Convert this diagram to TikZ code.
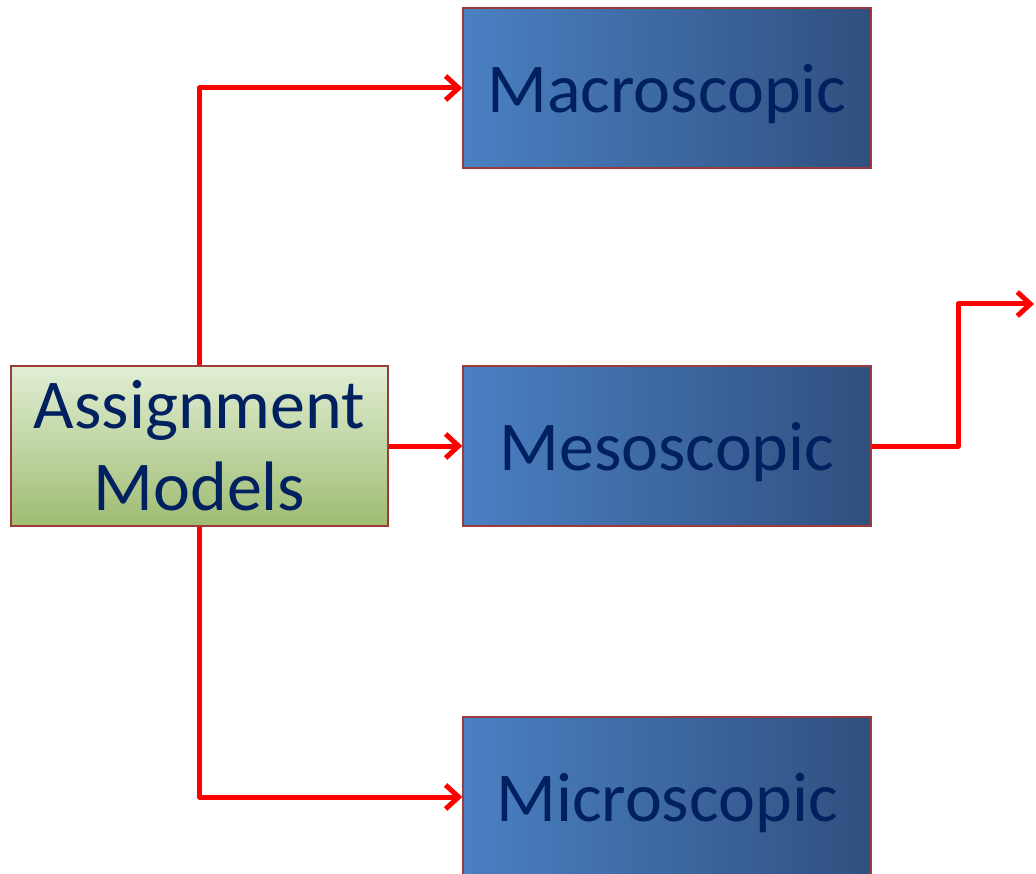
\documentclass[tikz,border=0pt]{standalone}
\usepackage{fontspec}
\setmainfont{Carlito}
\usetikzlibrary{arrows.meta}
\definecolor{txtblue}{HTML}{002060}
\definecolor{edgered}{HTML}{9B3B3A}
\definecolor{blueA}{HTML}{4A80C3}
\definecolor{blueM}{HTML}{3F70AD}
\definecolor{blueB}{HTML}{30507F}
\definecolor{greenA}{HTML}{E1EED4}
\definecolor{greenB}{HTML}{9FBC72}
\definecolor{linkred}{HTML}{FF0000}
\tikzset{
  levelbox/.style={draw=edgered, line width=1.5pt, inner sep=0pt,
    minimum width=408pt, minimum height=160pt, text depth=0pt,
    left color=blueA, middle color=blueM, right color=blueB,
    text=txtblue, font=\fontsize{70}{84}\selectfont},
  rootbox/.style={draw=edgered, line width=1.5pt, inner sep=0pt,
    minimum width=377pt, minimum height=160pt, align=center,
    top color=greenA, bottom color=greenB,
    text=txtblue, font=\fontsize{70}{82}\selectfont},
  link/.style={draw=linkred, line width=5pt, line join=round,
    -{Straight Barb[length=13pt,width=24pt,line width=5pt]}}
}
\begin{document}
\begin{tikzpicture}[x=1pt,y=-1pt]
  \useasboundingbox (0,0) rectangle (1036,874);
  \clip (0,0) rectangle (1036,874);
  % boxes
  \node[rootbox]  (root)  at (199.5,446) {Assignment\\Models};
  \node[levelbox] (macro) at (667,88)  {Macroscopic};
  \node[levelbox] (meso)  at (667,446) {Mesoscopic};
  \node[levelbox] (micro) at (667,797) {Microscopic};
  \coordinate (out) at (1034,304);
  % connectors
  \draw[link] (root.north) |- (macro.west);
  \draw[link] (root.south) |- (micro.west);
  \draw[link] (root.east) -- (meso.west);
  \draw[link] (meso.east) -- (958,446) |- (out);
\end{tikzpicture}
\end{document}
